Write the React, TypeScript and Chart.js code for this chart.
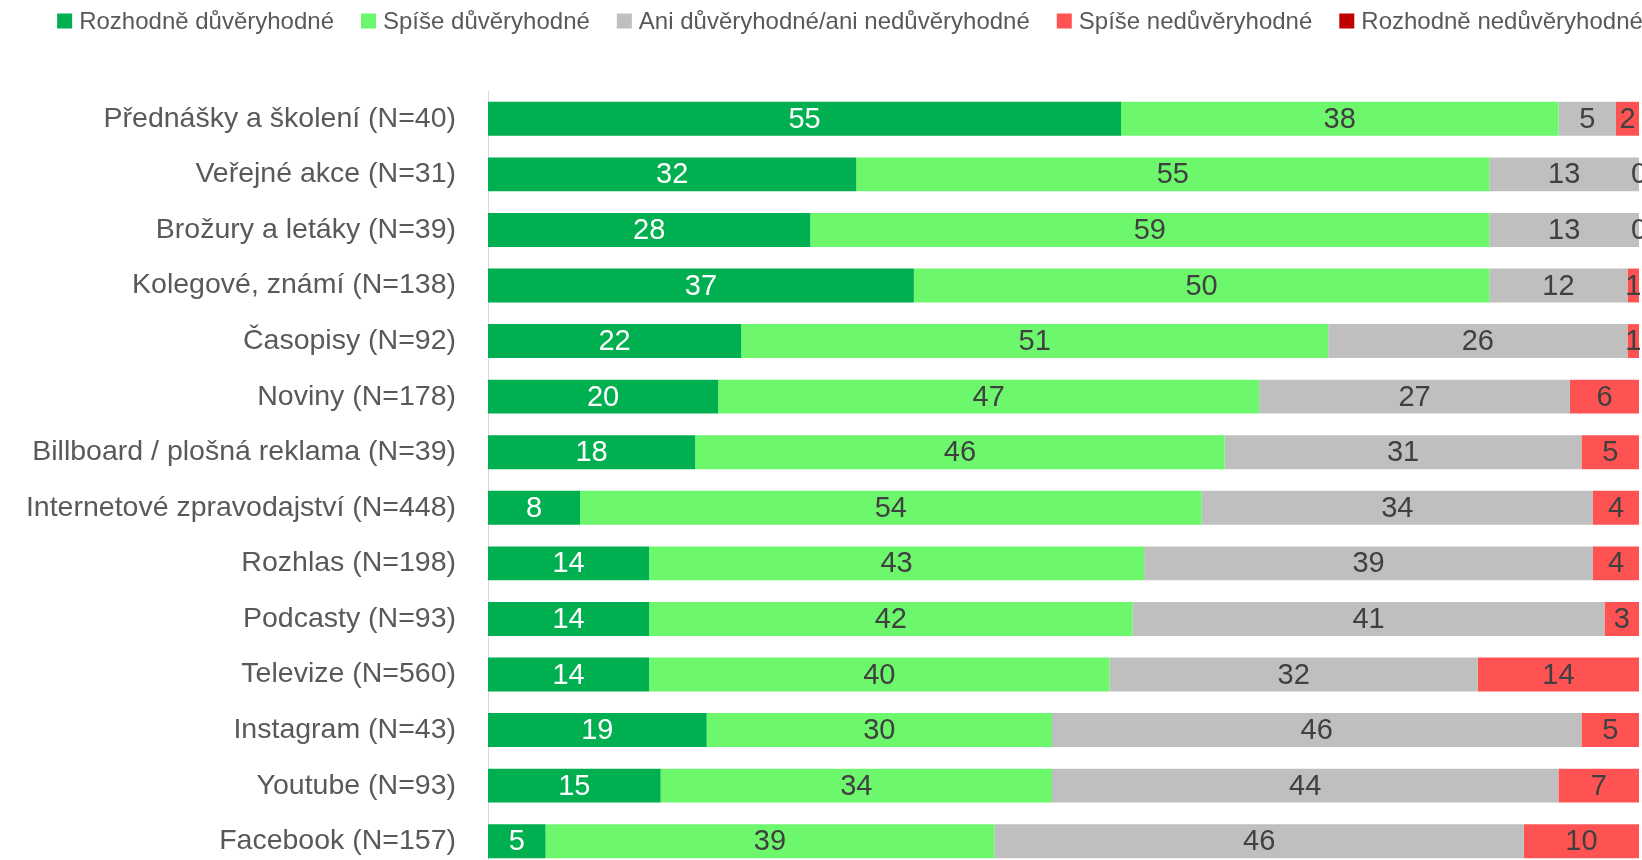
import React, { useEffect, useRef } from "react";
import { Chart, registerables } from "chart.js";

Chart.register(...registerables);

const FONT = "'Liberation Sans', Arial, sans-serif";

const categories = [
  "Přednášky a školení (N=40)",
  "Veřejné akce (N=31)",
  "Brožury a letáky (N=39)",
  "Kolegové, známí (N=138)",
  "Časopisy (N=92)",
  "Noviny (N=178)",
  "Billboard / plošná reklama (N=39)",
  "Internetové zpravodajství (N=448)",
  "Rozhlas (N=198)",
  "Podcasty (N=93)",
  "Televize (N=560)",
  "Instagram (N=43)",
  "Youtube (N=93)",
  "Facebook (N=157)",
];

const seriesNames = [
  "Rozhodně důvěryhodné",
  "Spíše důvěryhodné",
  "Ani důvěryhodné/ani nedůvěryhodné",
  "Spíše nedůvěryhodné",
  "Rozhodně nedůvěryhodné",
];

const rozhodneDuveryhodne = [55, 32, 28, 37, 22, 20, 18, 8, 14, 14, 14, 19, 15, 5];
const spiseDuveryhodne = [38, 55, 59, 50, 51, 47, 46, 54, 43, 42, 40, 30, 34, 39];
const aniAni = [5, 13, 13, 12, 26, 27, 31, 34, 39, 41, 32, 46, 44, 46];
const spiseNeduveryhodne = [2, 0, 0, 1, 1, 6, 5, 4, 4, 3, 14, 5, 7, 10];
const rozhodneNeduveryhodne: (number | null)[] = [
  null, null, null, null, null, null, null, null, null, null, null, null, null, null,
];

const seriesColors = ["#00B050", "#6CF76C", "#BFBFBF", "#FF5353", "#C00000"];
const labelColors = ["#FFFFFF", "#404040", "#404040", "#404040", "#FFFFFF"];

const legendPlugin = {
  id: "topLegend",
  afterDraw(chart: any) {
    const ctx = chart.ctx;
    ctx.save();
    ctx.font = `24px ${FONT}`;
    const box = 15;
    const gap = 7;
    const spacing = 27;
    const items = chart.data.datasets.map((ds: any) => ({
      text: ds.label,
      color: ds.backgroundColor,
      w: ctx.measureText(ds.label).width,
    }));
    const total =
      items.reduce((s: number, it: any) => s + box + gap + it.w, 0) +
      spacing * (items.length - 1);
    let x = chart.width / 2 - total / 2;
    const cy = 21;
    ctx.textBaseline = "middle";
    ctx.textAlign = "left";
    items.forEach((it: any) => {
      ctx.fillStyle = it.color;
      ctx.fillRect(x, cy - box / 2, box, box);
      ctx.fillStyle = "#595959";
      ctx.fillText(it.text, x + box + gap, cy + 1);
      x += box + gap + it.w + spacing;
    });
    ctx.restore();
  },
};

const dataLabelPlugin = {
  id: "barValues",
  afterDatasetsDraw(chart: any) {
    const ctx = chart.ctx;
    ctx.save();
    ctx.font = `29px ${FONT}`;
    ctx.textAlign = "center";
    ctx.textBaseline = "middle";
    chart.data.datasets.forEach((ds: any, i: number) => {
      const meta = chart.getDatasetMeta(i);
      if (meta.hidden) return;
      meta.data.forEach((bar: any, j: number) => {
        const v = ds.data[j];
        if (v === null || v === undefined) return;
        const p = bar.getProps(["x", "base", "y"], true);
        ctx.fillStyle = labelColors[i];
        ctx.fillText(String(v), (p.x + p.base) / 2, p.y + 1);
      });
    });
    ctx.restore();
  },
};

export default function App() {
  const ref = useRef<HTMLCanvasElement | null>(null);

  useEffect(() => {
    if (!ref.current) return;
    const allSeries = [
      rozhodneDuveryhodne,
      spiseDuveryhodne,
      aniAni,
      spiseNeduveryhodne,
      rozhodneNeduveryhodne,
    ];
    const chart = new Chart(ref.current, {
      type: "bar",
      data: {
        labels: categories,
        datasets: allSeries.map((d, i) => ({
          label: seriesNames[i],
          data: d,
          backgroundColor: seriesColors[i],
          borderWidth: 0,
          categoryPercentage: 1,
          barPercentage: 0.61,
        })),
      },
      options: {
        indexAxis: "y",
        animation: false,
        responsive: true,
        maintainAspectRatio: false,
        devicePixelRatio: 1,
        layout: { padding: { top: 91, right: 61, bottom: 11, left: 0 } },
        plugins: {
          legend: { display: false },
          tooltip: { enabled: false },
          title: { display: false },
        },
        scales: {
          x: {
            stacked: true,
            min: 0,
            max: 100,
            display: false,
          },
          y: {
            stacked: true,
            grid: { display: false, drawTicks: false },
            border: { display: true, color: "#D9D9D9", width: 1 },
            ticks: {
              autoSkip: false,
              padding: 32,
              color: "#595959",
              font: { family: FONT, size: 28.5 },
            },
            afterFit: (scale: any) => {
              scale.width = 488;
              scale.paddingTop = 0;
              scale.paddingBottom = 0;
            },
          },
        },
      },
      plugins: [legendPlugin, dataLabelPlugin],
    });
    return () => chart.destroy();
  }, []);

  return (
    <div
      style={{
        position: "fixed",
        left: 0,
        top: 0,
        width: 1700,
        height: 880,
        background: "#FFFFFF",
      }}
    >
      <div style={{ position: "relative", width: 1700, height: 880 }}>
        <canvas ref={ref} />
      </div>
    </div>
  );
}
